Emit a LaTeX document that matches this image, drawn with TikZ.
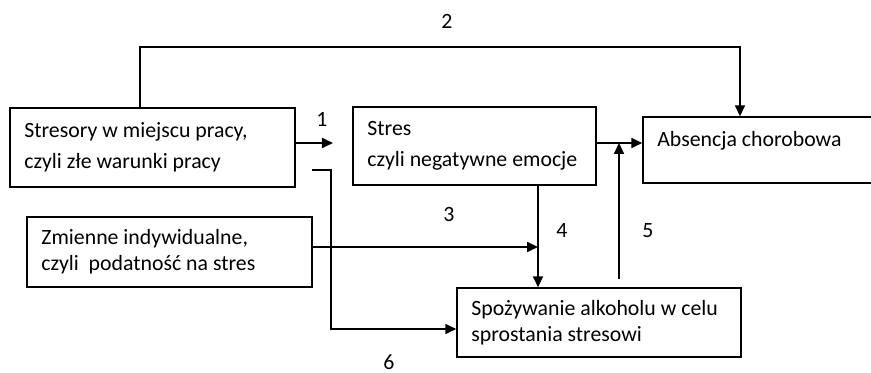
\documentclass[tikz,border=0pt]{standalone}
\usepackage{fontspec}
\setmainfont{Carlito}
\usepackage{tikz}
\usetikzlibrary{arrows.meta,positioning,calc}
\tikzset{
  ramka/.style={rectangle, draw=black, line width=1pt, align=flush left, inner xsep=0.36cm,
                font=\fontsize{15.5pt}{22pt}\selectfont},
  ramkab/.style={ramka, font=\fontsize{15.5pt}{18.5pt}\selectfont},
  strz/.style={-{Triangle[length=0.275cm,width=0.25cm]}, line width=1.2pt, draw=black},
  nr/.style={font=\fontsize{15.5pt}{18pt}\selectfont, inner sep=0pt},
}
\begin{document}
\begin{tikzpicture}[x=0.025cm, y=-0.025cm]
    \useasboundingbox (0,0) rectangle (871,373);
    \node[ramka, minimum width=7.125cm, minimum height=1.975cm, text width=6.405cm] (a) at (152.5,147.5)
      {Stresory w miejscu pracy,\\czyli złe warunki pracy};
    \node[ramka, minimum width=6.075cm, minimum height=1.95cm, text width=5.355cm] (b) at (474.5,146)
      {Stres\\czyli negatywne emocje};
    \node[ramka, minimum width=6.05cm, minimum height=1.65cm, text width=5.33cm,
          text height=0.4cm, text depth=0.55cm] (c) at (764,150) {Absencja chorobowa};
    \node[ramkab, minimum width=7.125cm, minimum height=1.75cm, text width=6.405cm] (d) at (169.5,252)
      {Zmienne indywidualne,\\czyli\ \ podatność na stres};
    \node[ramkab, minimum width=7.1cm, minimum height=1.725cm, text width=6.38cm] (e) at (599,322.5)
      {Spożywanie alkoholu w celu\\sprostania stresowi};
    \coordinate (t1) at (333,143);
    \coordinate (p4) at ([xshift=1.5875cm]b.south);
    \coordinate (p5) at (619,279);
    \coordinate (s6) at (312,170);
    \draw[strz] ([yshift=0.1125cm]a.east) -- (t1);
    \draw[strz] ([yshift=0.075cm]b.east) coordinate (bc) -- (bc -| c.west);
    \draw[strz] ([xshift=-0.3125cm]a.north) -- ++(0,-60) -| ([xshift=-0.6cm]c.north);
    \draw[strz] (p4) -- (p4 |- e.north);
    \draw[strz] ([yshift=0.125cm]d.east) coordinate (d3) -- (d3 -| p4);
    \draw[strz] (p5) -- (p5 |- bc);
    \draw[strz] (s6) -- ++(19,0) |- ([yshift=-0.1625cm]e.west);
    \node[nr] (n1) at (322,119) {1};
    \node[nr] (n2) at (447,21) {2};
    \node[nr] (n3) at (449,215) {3};
    \node[nr] (n4) at (562,231) {4};
    \node[nr] (n5) at (648,231) {5};
    \node[nr] (n6) at (389,362) {6};
\end{tikzpicture}
\end{document}
